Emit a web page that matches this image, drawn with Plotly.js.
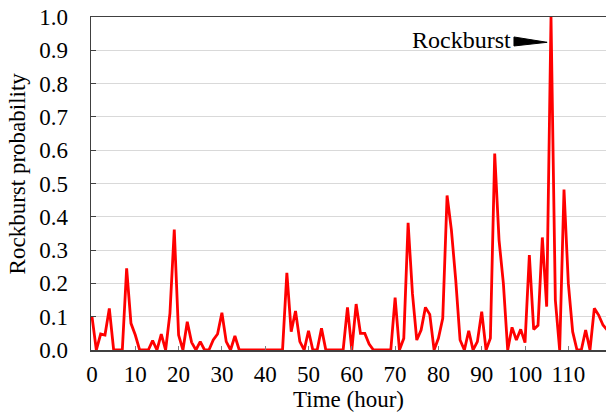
<!DOCTYPE html>
<html>
<head>
<meta charset="utf-8">
<script src="https://cdn.plot.ly/plotly-3.0.1.min.js"></script>
<style>html,body{margin:0;padding:0;background:#fff;}#chart{width:606px;height:414px;}</style>
</head>
<body>
<div id="chart"></div>
<script>
// Time in hours (one reading per hour)
const hours = [
  0,1,2,3,4,5,6,7,8,9,10,11,12,13,14,15,16,17,18,19,
  20,21,22,23,24,25,26,27,28,29,30,31,32,33,34,35,36,37,38,39,
  40,41,42,43,44,45,46,47,48,49,50,51,52,53,54,55,56,57,58,59,
  60,61,62,63,64,65,66,67,68,69,70,71,72,73,74,75,76,77,78,79,
  80,81,82,83,84,85,86,87,88,89,90,91,92,93,94,95,96,97,98,99,
  100,101,102,103,104,105,106,107,108,109,110,111,112,113,114,115,116,117,118,119
];
// Rockburst probability per hour
const probability = [
  0.10,0,0.048,0.045,0.125,0,0,0,0.245,0.08,
  0.045,0,0,0,0.028,0,0.048,0,0.11,0.362,
  0.045,0,0.085,0.023,0,0.025,0,0,0.03,0.048,
  0.112,0.025,0,0.042,0,0,0,0,0,0,
  0,0,0,0,0,0.232,0.055,0.117,0.025,0,
  0.058,0,0,0.065,0,0,0,0,0,0.128,
  0,0.138,0.05,0.05,0.018,0,0,0,0,0,
  0.157,0,0.035,0.382,0.17,0.03,0.06,0.128,0.107,0,
  0.035,0.095,0.464,0.36,0.21,0.03,0,0.058,0,0.025,
  0.115,0,0.035,0.59,0.33,0.2,0,0.068,0.03,0.062,
  0.022,0.285,0.062,0.074,0.338,0.13,1.0,0.15,0,0.482,
  0.2,0.055,0,0,0.06,0,0.125,0.105,0.075,0.06
];
const xTickVals = [0,10,20,30,40,50,60,70,80,90,100,110];
const yTickVals = [0,0.1,0.2,0.3,0.4,0.5,0.6,0.7,0.8,0.9,1.0];
const yTickText = ["0.0","0.1","0.2","0.3","0.4","0.5","0.6","0.7","0.8","0.9","1.0"];
const xTitle = "Time (hour)";
const yTitle = "Rockburst probability";
const markerLabel = "Rockburst";

const serif = "Liberation Serif";

const trace = {
  x: hours, y: probability, type: "scatter", mode: "lines",
  line: {color: "#ff0000", width: 2.8},
  hoverinfo: "skip"
};

const layout = {
  width: 606, height: 414,
  margin: {l: 91, r: 0, t: 17, b: 64, pad: 0},
  paper_bgcolor: "#ffffff", plot_bgcolor: "#ffffff",
  showlegend: false,
  font: {family: serif, size: 23, color: "#000"},
  xaxis: {
    range: [-0.23, 118.7],
    tickvals: xTickVals,
    ticks: "inside", ticklen: 4, tickwidth: 1, tickcolor: "#7f7f7f",
    showgrid: false, zeroline: false,
    showline: true, linecolor: "#404040", linewidth: 1.5, mirror: true,
    ticklabelstandoff: 3,
    tickfont: {family: serif, size: 23, color: "#000"},
    title: {text: xTitle, font: {family: serif, size: 23, color: "#000"}, standoff: 1}
  },
  yaxis: {
    range: [0, 1.0],
    tickvals: yTickVals, ticktext: yTickText,
    ticks: "inside", ticklen: 5, tickwidth: 1, tickcolor: "#404040",
    showgrid: true, gridcolor: "#d9d9d9", gridwidth: 1,
    zeroline: false,
    showline: true, linecolor: "#404040", linewidth: 1.5,
    ticklabelstandoff: 17,
    tickfont: {family: serif, size: 23, color: "#000"}
  },
  annotations: [{
    x: 97.3, y: 0.93, xref: "x", yref: "y",
    text: markerLabel, showarrow: false,
    xanchor: "right", yanchor: "middle",
    font: {family: serif, size: 24, color: "#000"}
  }, {
    x: -0.142, y: 0.53, xref: "paper", yref: "paper",
    text: yTitle, showarrow: false, textangle: -90,
    xanchor: "center", yanchor: "middle",
    font: {family: serif, size: 23, color: "#000"}
  }],
  shapes: [{
    type: "path", xref: "x", yref: "y",
    path: "M 97.45 0.94 L 105.1 0.924 L 97.45 0.913 Z",
    fillcolor: "#000000", line: {color: "#000000", width: 1}
  }]
};

Plotly.newPlot("chart", [trace], layout, {displayModeBar: false, staticPlot: true});
</script>
</body>
</html>
